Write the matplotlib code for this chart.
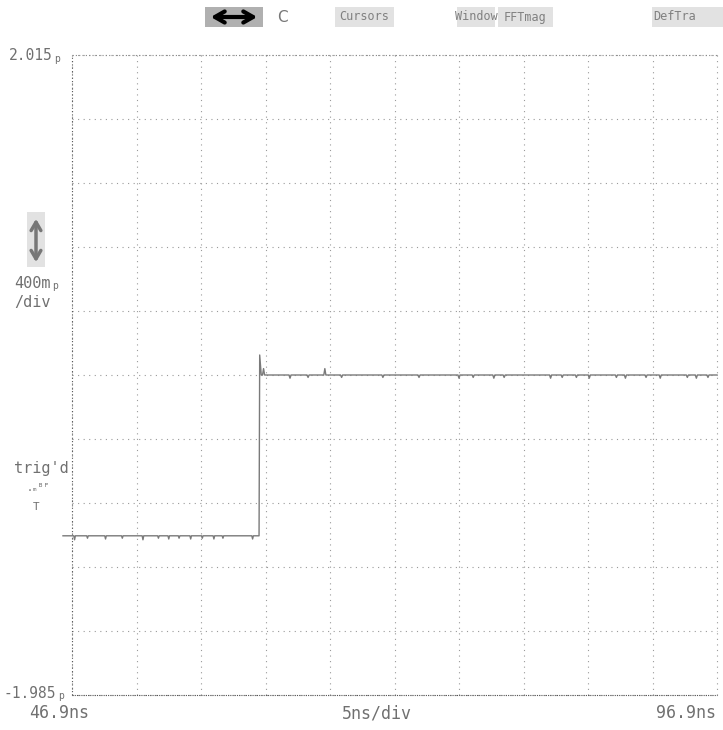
import matplotlib.pyplot as plt
from matplotlib.patches import Rectangle, FancyArrowPatch

# scope settings
t_start, t_end = 46.9, 96.9          # ns
v_top, v_bottom = 2.015, -1.985      # p
t_step = 61.45
low_level, high_level = -0.99, 0.015
overshoot = 0.14

# small glitches (time ns, dip)
low_glitch_t = [47.1, 48.1, 49.5, 50.8, 52.4, 53.6, 54.4, 55.2, 56.1, 57.0, 57.9, 58.6, 60.9]
low_glitch_d = [0.025, 0.015, 0.02, 0.015, 0.025, 0.015, 0.02, 0.015, 0.02, 0.015, 0.02, 0.015, 0.02]
high_glitch_t = [63.8, 65.2, 67.8, 71.0, 73.8, 76.9, 78.0, 79.6, 80.4, 84.0, 84.9, 86.0, 87.0,
                 89.1, 89.8, 91.4, 92.5, 94.6, 95.3, 96.2]
high_glitch_d = [0.02, 0.015, 0.015, 0.015, 0.015, 0.02, 0.015, 0.02, 0.015, 0.02, 0.015, 0.015, 0.02,
                 0.015, 0.02, 0.015, 0.02, 0.015, 0.02, 0.015]
bump_t = [61.75, 66.5]
bump_h = [0.04, 0.04]

# build trace
tt = [46.2]
vv = [low_level]
for t, d in zip(low_glitch_t, low_glitch_d):
    tt += [t - 0.06, t, t + 0.06]
    vv += [low_level, low_level - d, low_level]
tt += [t_step - 0.05, t_step, t_step + 0.12, t_step + 0.2]
vv += [low_level, overshoot, high_level, high_level]
events = sorted([(t, -d) for t, d in zip(high_glitch_t, high_glitch_d)] +
                [(t, h) for t, h in zip(bump_t, bump_h)])
for t, d in events:
    tt += [t - 0.08, t, t + 0.08]
    vv += [high_level, high_level + d, high_level]
tt += [t_end]
vv += [high_level]

W, H = 723, 730
fig = plt.figure(figsize=(W / 100, H / 100), dpi=100)
fig.patch.set_facecolor('white')
ax = fig.add_axes([72 / W, 1 - 695 / H, (717 - 72) / W, (695 - 55) / H])
ax.set_xlim(t_start, t_end)
ax.set_ylim(v_bottom, v_top)
for s in ax.spines.values():
    s.set_visible(False)
ax.set_xticks([])
ax.set_yticks([])

grid_c = '#9a9a9a'
for i in range(11):
    x = t_start + i * 5
    ax.plot([x, x], [v_bottom, v_top], color=grid_c, lw=0.8, ls=(0, (1, 4)), clip_on=False)
    y = v_bottom + i * 0.4
    ax.plot([t_start, t_end], [y, y], color=grid_c, lw=0.8, ls=(0, (1, 4)), clip_on=False)
ax.plot([t_start, t_start], [v_bottom, v_top], color='#555555', lw=0.8, ls=(0, (1, 2)), clip_on=False)
ax.plot([t_start, t_end], [v_bottom, v_bottom], color='#555555', lw=0.8, ls=(0, (1, 1)), clip_on=False)
ax.plot([t_start, t_end], [v_top, v_top], color='#888888', lw=0.8, ls=(0, (1, 2)), clip_on=False)

ax.plot(tt, vv, color='#7a7a7a', lw=1.0, clip_on=False)

txt = dict(family='DejaVu Sans Mono', color='#707070')


def fx(x):
    return x / W


def fy(y):
    return 1 - y / H


fig.text(fx(9), fy(56), '2.015', fontsize=10.5, va='center', ha='left', **txt)
fig.text(fx(54), fy(59), 'p', fontsize=7, va='center', ha='left', **txt)
fig.text(fx(4), fy(693), '-1.985', fontsize=10.5, va='center', ha='left', **txt)
fig.text(fx(58), fy(696), 'p', fontsize=7, va='center', ha='left', **txt)
fig.text(fx(29), fy(713), '46.9ns', fontsize=12, va='center', ha='left', **txt)
fig.text(fx(377), fy(713), '5ns/div', fontsize=12, va='center', ha='center', **txt)
fig.text(fx(716), fy(713), '96.9ns', fontsize=12, va='center', ha='right', **txt)
fig.text(fx(14), fy(283), '400m', fontsize=11, va='center', ha='left', **txt)
fig.text(fx(52), fy(286), 'p', fontsize=7, va='center', ha='left', **txt)
fig.text(fx(14), fy(303), '/div', fontsize=11, va='center', ha='left', **txt)
fig.text(fx(14), fy(468), "trig'd", fontsize=11, va='center', ha='left', **txt)
fig.text(fx(27), fy(488), '.ₘᴮᴾ', fontsize=7, va='center', ha='left', **txt)
fig.text(fx(33), fy(507), 'T', fontsize=8, va='center', ha='left', **txt)

# top soft keys
menu = [(205, 263, ''), (335, 394, 'Cursors'), (457, 495, 'Window'), (498, 553, 'FFTmag'), (652, 723, 'DefTra')]
for x0, x1, label in menu:
    fc = '#b0b0b0' if label == '' else '#e2e2e2'
    fig.patches.append(Rectangle((fx(x0), fy(27)), (x1 - x0) / W, 20 / H,
                                 transform=fig.transFigure, facecolor=fc, edgecolor='none'))
menu_txt = dict(fontsize=8.5, va='center', family='DejaVu Sans Mono', color='#808080')
fig.text(fx(364), fy(17), 'Cursors', ha='center', **menu_txt)
fig.text(fx(476), fy(17), 'Window', ha='center', **menu_txt)
fig.text(fx(525), fy(17), 'FFTmag', ha='center', **menu_txt)
fig.text(fx(653), fy(17), 'DefTra', ha='left', **menu_txt)
fig.text(fx(277), fy(17), 'C', fontsize=11, va='center', ha='left', family='DejaVu Sans', color='#777777')
fig.patches.append(FancyArrowPatch((fx(208), fy(17)), (fx(260), fy(17)), transform=fig.transFigure,
                                   arrowstyle='<->,head_length=7,head_width=4', color='black', lw=3))

# vertical scale icon
fig.patches.append(Rectangle((fx(27), fy(267)), 18 / W, 55 / H, transform=fig.transFigure,
                             facecolor='#e2e2e2', edgecolor='none'))
fig.patches.append(FancyArrowPatch((fx(36), fy(216)), (fx(36), fy(265)), transform=fig.transFigure,
                                   arrowstyle='<->,head_length=6,head_width=3.5', color='#777777', lw=2.5))

fig.savefig('out.png', dpi=100, facecolor='white')
